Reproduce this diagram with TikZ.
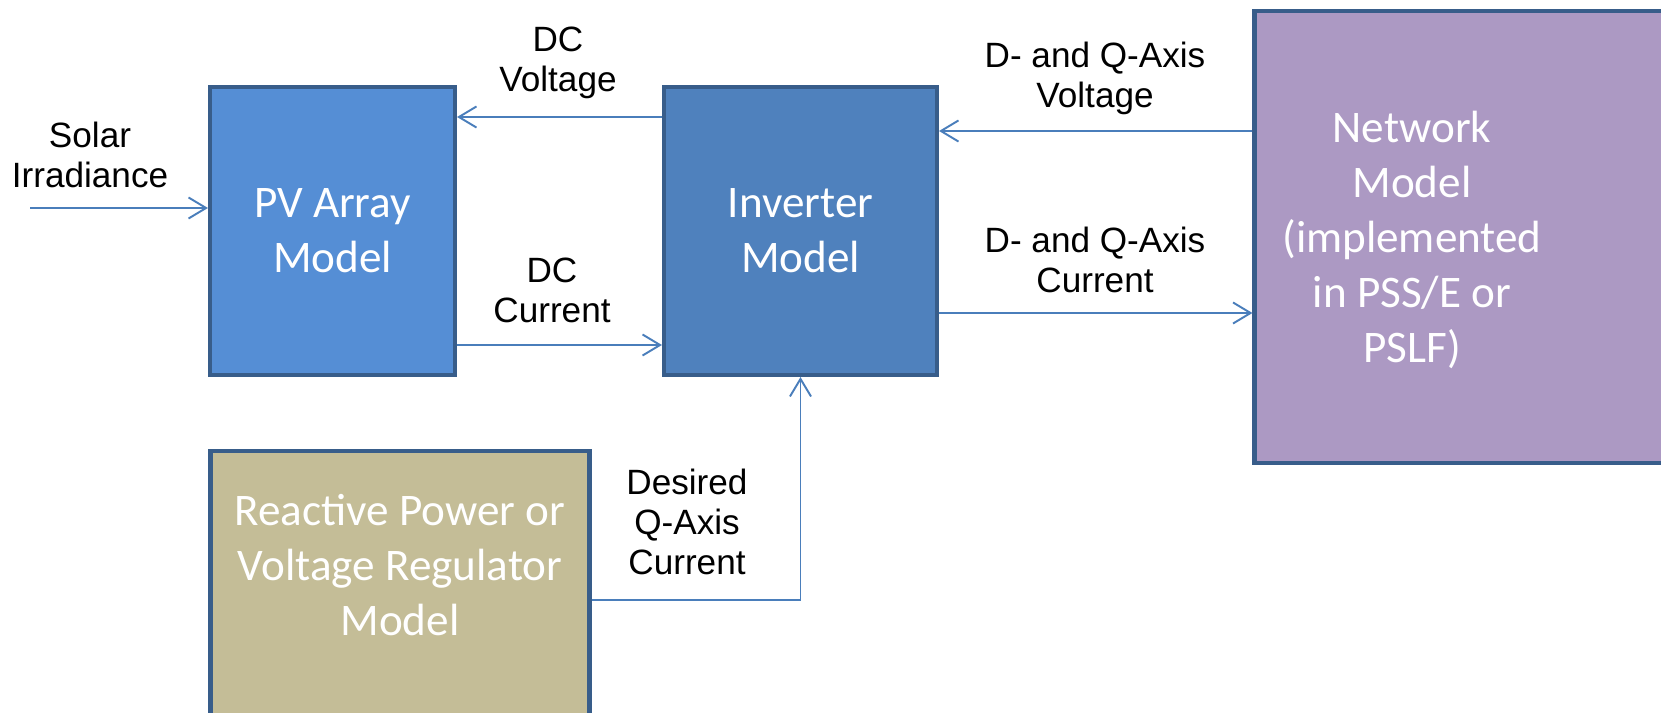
\documentclass[tikz,border=0pt]{standalone}
\usepackage{fontspec}
\setmainfont{Liberation Sans}
\newfontfamily\boxfont{Carlito}
\usepackage{tikz}
\usetikzlibrary{arrows.meta,calc}
\usepackage{xcolor}
\definecolor{edgeblue}{HTML}{385D8A}
\definecolor{flowblue}{HTML}{4A7EBB}
\definecolor{pvfill}{HTML}{558ED5}
\definecolor{invfill}{HTML}{4F81BD}
\definecolor{netfill}{HTML}{AC99C3}
\definecolor{regfill}{HTML}{C4BD97}
\tikzstyle{block}=[draw=edgeblue, line width=2.3pt, inner sep=0pt, text=white, align=center, font=\boxfont\fontsize{25.7pt}{31.3pt}\selectfont]
\tikzstyle{flow}=[draw=flowblue, line width=1.1pt, -{Straight Barb[length=10pt,width=12pt]}]
\tikzstyle{sig}=[align=center, font=\fontsize{20pt}{22.8pt}\selectfont]

\begin{document}
\begin{tikzpicture}
	\useasboundingbox (0,0) rectangle (33.22,-14.26);
	\node[block, fill=pvfill, minimum width=4.9cm, minimum height=5.76cm] (pv) at (6.65,-4.62) {PV Array\\Model};
	\node[block, fill=invfill, minimum width=5.46cm, minimum height=5.76cm] (inv) at (16.01,-4.62) {Inverter\\Model};
	\node[block, fill=netfill, minimum width=8.91cm, minimum height=9.04cm] (net) at (29.545,-4.74) {};
	\node[block, draw=none, fill=none] (nettext) at (28.24,-4.8) {Network\\Model\\(implemented\\in PSS/E or\\PSLF)};
	\node[block, fill=regfill, minimum width=7.58cm, minimum height=6.18cm] (reg) at (8.0,-12.11) {};
	\node[block, draw=none, fill=none] (regtext) at (8.0,-11.3) {Reactive Power or\\Voltage Regulator\\Model};

	\coordinate (sun) at (0.6,-4.16);
	\draw[flow] (sun) -- (pv.west |- sun);
	\draw[flow] ([yshift=2.28cm]inv.west) -- ([yshift=2.28cm]pv.east);
	\draw[flow] ([yshift=-2.28cm]pv.east) -- ([yshift=-2.28cm]inv.west);
	\coordinate (dqv) at ([yshift=2cm]inv.east);
	\coordinate (dqi) at ([yshift=-1.64cm]inv.east);
	\draw[flow] (net.west |- dqv) -- (dqv);
	\draw[flow] (dqi) -- (net.west |- dqi);
	\draw[flow] ([yshift=0.11cm]reg.east) -| (inv.south);

	\node[sig] (sunlbl) at (1.8,-3.1) {Solar\\Irradiance};
	\node[sig] (dcvlbl) at (11.16,-1.26) {DC\\Voltage};
	\node[sig] (dcilbl) at (11.04,-5.8) {DC\\Current};
	\node[sig] (dqvlbl) at (21.9,-1.56) {D- and Q-Axis\\Voltage};
	\node[sig] (dqilbl) at (21.9,-5.2) {D- and Q-Axis\\Current};
	\node[sig] (iqlbl) at (13.74,-10.44) {Desired\\Q-Axis\\Current};
\end{tikzpicture}
\end{document}
